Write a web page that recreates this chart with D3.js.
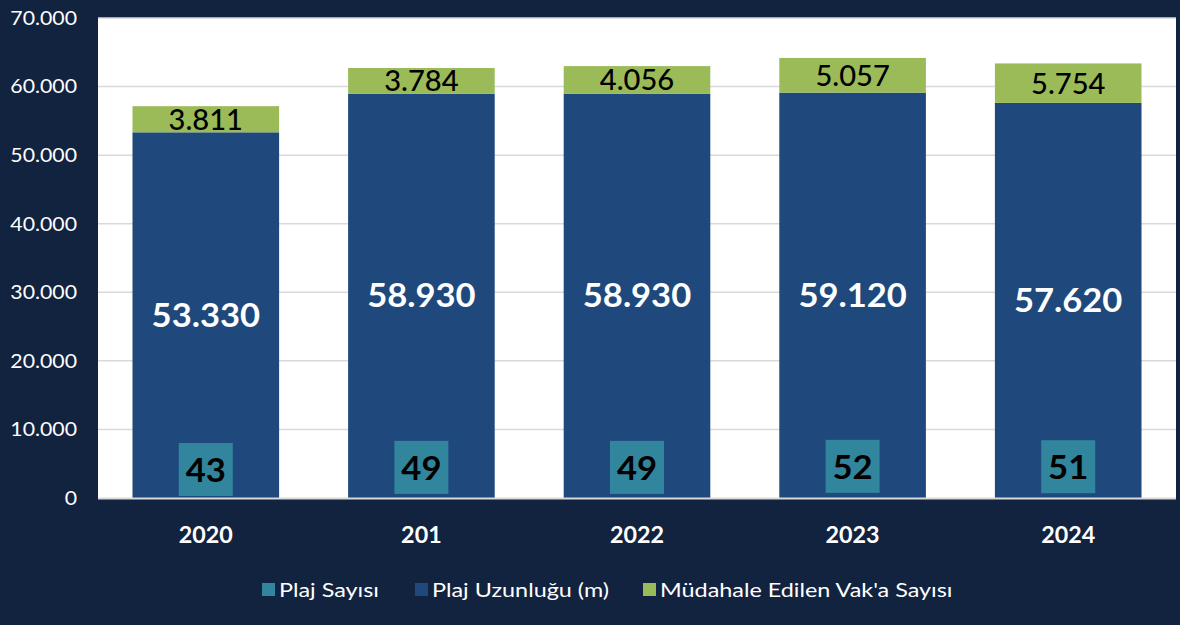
<!DOCTYPE html>
<html><head><meta charset="utf-8">
<script src="https://cdn.jsdelivr.net/npm/d3@7"></script>
<style>
html,body{margin:0;padding:0;background:#12233f;}
svg{display:block;font-family:Lato,"Noto Sans",sans-serif;}
</style></head>
<body><svg id="c" width="1180" height="625"></svg>
<script>
const categories = ["2020","201","2022","2023","2024"];
const plajSayisi = [43,49,49,52,51];
const plajUzunlugu = [53330,58930,58930,59120,57620];
const vakaSayisi = [3811,3784,4056,5057,5754];
const yTicks = [0,10000,20000,30000,40000,50000,60000,70000];
const seriesNames = ["Plaj Sayısı","Plaj Uzunluğu (m)","Müdahale Edilen Vak'a Sayısı"];
const colors = ["#31859c","#1f497d","#9bbb59"];

const fmt = v => d3.format(",")(v).replace(/,/g,".");
const svg = d3.select("#c");
const m = {l:98, r:1176, t:18, b:498};
svg.append("rect").attr("width",1180).attr("height",625).attr("fill","#12233f");
svg.append("rect").attr("x",m.l).attr("y",m.t).attr("width",m.r-m.l).attr("height",m.b-m.t).attr("fill","#ffffff");

const x = d3.scaleBand().domain(categories).range([m.l,m.r]).paddingInner(0.32).paddingOuter(0.16);
const y = d3.scaleLinear().domain([0,70000]).range([m.b,m.t]);
const cx = d => x(d)+x.bandwidth()/2;

// gridlines
svg.append("g").selectAll("line").data(yTicks.slice(1)).join("line")
  .attr("x1",m.l).attr("x2",m.r).attr("y1",d=>y(d)).attr("y2",d=>y(d))
  .attr("stroke","#d9d9d9").attr("stroke-width",1.5);

// y axis labels (horizontally stretched like the reference)
svg.append("g").selectAll("text").data(yTicks).join("text")
  .attr("transform",d=>`translate(77,${y(d)}) scale(1.12,1)`)
  .attr("text-anchor","end").attr("dy","0.36em")
  .attr("fill","#ffffff").style("font-size","19px").text(fmt);

// blue bars
svg.append("g").selectAll("rect").data(categories).join("rect")
  .attr("x",d=>x(d)).attr("width",x.bandwidth())
  .attr("y",(d,i)=>y(plajUzunlugu[i])).attr("height",(d,i)=>y(0)-y(plajUzunlugu[i]))
  .attr("fill",colors[1]);
// green bars
svg.append("g").selectAll("rect").data(categories).join("rect")
  .attr("x",d=>x(d)).attr("width",x.bandwidth())
  .attr("y",(d,i)=>y(plajUzunlugu[i]+vakaSayisi[i])).attr("height",(d,i)=>y(plajUzunlugu[i])-y(plajUzunlugu[i]+vakaSayisi[i]))
  .attr("fill",colors[2]);

// x axis line
svg.append("line").attr("x1",m.l).attr("x2",m.r).attr("y1",m.b+0.5).attr("y2",m.b+0.5).attr("stroke","#d9d9d9").attr("stroke-width",2);

// blue labels
svg.append("g").selectAll("text").data(categories).join("text")
  .attr("transform",(d,i)=>`translate(${cx(d)},${(y(0)+y(plajUzunlugu[i]))/2}) scale(1.08,1)`)
  .attr("text-anchor","middle").attr("dy","0.36em")
  .attr("fill","#ffffff").style("font-size","32px").style("font-weight","bold")
  .text((d,i)=>fmt(plajUzunlugu[i]));
// green labels
svg.append("g").selectAll("text").data(categories).join("text")
  .attr("transform",(d,i)=>`translate(${cx(d)},${(y(plajUzunlugu[i])+y(plajUzunlugu[i]+vakaSayisi[i]))/2}) scale(1.04,1)`)
  .attr("text-anchor","middle").attr("dy","0.37em")
  .attr("fill","#000000").style("font-size","28px").style("font-weight","500")
  .text((d,i)=>fmt(vakaSayisi[i]));

// Plaj Sayısı label boxes
const bw = 54, bh = 53;
const lb = svg.append("g").selectAll("g").data(categories).join("g")
  .attr("transform",(d,i)=>`translate(${cx(d)},${y(0)-bh/2-2-(plajSayisi[i]-43)*0.35})`);
lb.append("rect").attr("x",-bw/2).attr("y",-bh/2).attr("width",bw).attr("height",bh).attr("fill",colors[0]);
lb.append("text").attr("text-anchor","middle").attr("dy","0.37em")
  .attr("transform","scale(1.05,1)")
  .attr("fill","#000000").style("font-size","33px").style("font-weight","bold")
  .text((d,i)=>plajSayisi[i]);

// x labels
svg.append("g").selectAll("text").data(categories).join("text")
  .attr("transform",d=>`translate(${cx(d)},535) scale(1.06,1)`).attr("dy","0.36em")
  .attr("text-anchor","middle").attr("fill","#ffffff")
  .style("font-size","22px").style("font-weight","bold").text(d=>d);

// legend
const legX = [262, 415, 643];
const lg = svg.append("g").selectAll("g").data(seriesNames).join("g")
  .attr("transform",(d,i)=>`translate(${legX[i]},590)`);
lg.append("rect").attr("x",0).attr("y",-7).attr("width",13).attr("height",13).attr("fill",(d,i)=>colors[i]);
lg.append("text").attr("transform","translate(17,0) scale(1.17,1)").attr("dy","0.36em")
  .attr("fill","#ffffff").style("font-size","20px").text(d=>d);
</script></body></html>
